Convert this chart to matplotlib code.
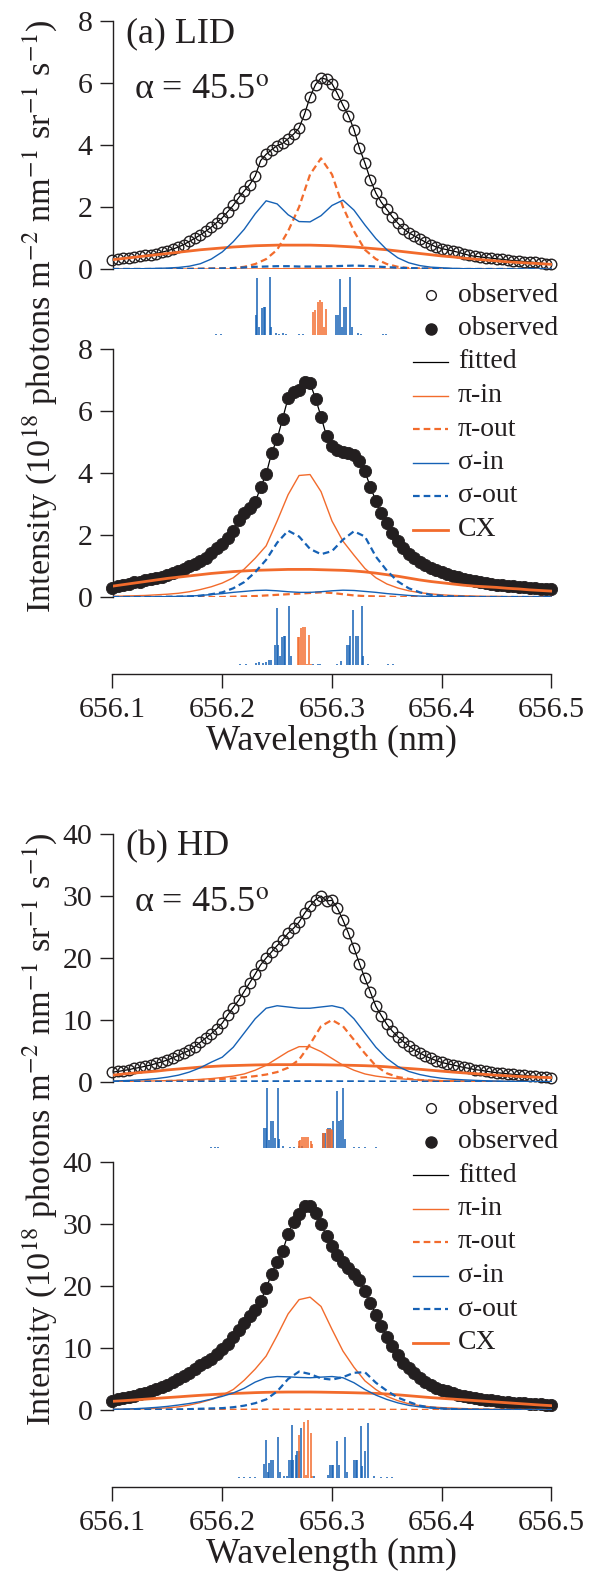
import numpy as np
import matplotlib
matplotlib.use('Agg')
import matplotlib.pyplot as plt
from matplotlib.lines import Line2D

plt.rcParams['font.family'] = ['Liberation Serif', 'DejaVu Serif']
plt.rcParams['mathtext.fontset'] = 'stix'

# wavelength grids (nm): observed points every 0.005 nm, fitted components every 0.01 nm
wl_obs = np.round(np.arange(656.100, 656.5001, 0.005), 3)
wl_fit = np.round(np.arange(656.10, 656.5001, 0.01), 2)

# ---------------- (a) LID, upper panel (open circles) ----------------
a_up_obs = [0.30, 0.32, 0.35, 0.37, 0.39, 0.41, 0.44, 0.46, 0.50, 0.54,
            0.59, 0.64, 0.71, 0.79, 0.89, 0.99, 1.10, 1.22, 1.35, 1.50,
            1.65, 1.85, 2.05, 2.30, 2.52, 2.72, 3.00, 3.50, 3.70, 3.85,
            3.98, 4.05, 4.20, 4.35, 4.55, 5.00, 5.55, 5.95, 6.16, 6.12,
            5.98, 5.65, 5.28, 4.95, 4.50, 3.90, 3.42, 2.88, 2.45, 2.15,
            1.92, 1.68, 1.48, 1.30, 1.17, 1.07, 0.97, 0.87, 0.79, 0.71,
            0.66, 0.62, 0.58, 0.54, 0.49, 0.44, 0.41, 0.39, 0.37, 0.35,
            0.33, 0.31, 0.29, 0.27, 0.26, 0.24, 0.23, 0.21, 0.19, 0.17,
            0.15]
a_up_pi_in = [0.0, 0.0, 0.0, 0.0, 0.0, 0.0, 0.0, 0.0, 0.0, 0.0,
              0.0, 0.0, 0.0, 0.0, 0.01, 0.01, 0.01, 0.02, 0.02, 0.02,
              0.02, 0.01, 0.01, 0.01, 0.0, 0.0, 0.0, 0.0, 0.0, 0.0,
              0.0, 0.0, 0.0, 0.0, 0.0, 0.0, 0.0, 0.0, 0.0, 0.0, 0.0]
a_up_pi_out = [0.0, 0.0, 0.0, 0.0, 0.0, 0.0, 0.0, 0.01, 0.01, 0.02,
               0.02, 0.03, 0.07, 0.16, 0.32, 0.62, 1.22, 2.00, 3.05, 3.57,
               3.05, 2.00, 1.22, 0.62, 0.32, 0.16, 0.07, 0.03, 0.02, 0.01,
               0.01, 0.0, 0.0, 0.0, 0.0, 0.0, 0.0, 0.0, 0.0, 0.0, 0.0]
a_up_sig_in = [0.0, 0.0, 0.01, 0.01, 0.02, 0.03, 0.05, 0.09, 0.17, 0.32,
               0.55, 0.88, 1.28, 1.78, 2.20, 2.10, 1.75, 1.53, 1.52, 1.72,
               2.05, 2.22, 1.90, 1.42, 0.98, 0.62, 0.36, 0.20, 0.11, 0.06,
               0.04, 0.02, 0.01, 0.01, 0.0, 0.0, 0.0, 0.0, 0.0, 0.0, 0.0]
a_up_sig_out = [0.0, 0.0, 0.0, 0.0, 0.0, 0.0, 0.0, 0.0, 0.005, 0.01,
                0.02, 0.03, 0.05, 0.07, 0.08, 0.09, 0.09, 0.08, 0.08, 0.08,
                0.09, 0.10, 0.11, 0.10, 0.08, 0.06, 0.04, 0.03, 0.02, 0.01,
                0.0, 0.0, 0.0, 0.0, 0.0, 0.0, 0.0, 0.0, 0.0, 0.0, 0.0]
a_up_cx = [0.30, 0.34, 0.38, 0.42, 0.46, 0.50, 0.54, 0.58, 0.62, 0.65,
           0.68, 0.71, 0.73, 0.75, 0.76, 0.77, 0.77, 0.77, 0.77, 0.76,
           0.75, 0.73, 0.71, 0.68, 0.65, 0.62, 0.58, 0.54, 0.50, 0.46,
           0.42, 0.39, 0.35, 0.32, 0.29, 0.26, 0.23, 0.21, 0.19, 0.17, 0.15]

# ---------------- (a) LID, lower panel (filled circles) ----------------
a_lo_obs = [0.30, 0.34, 0.38, 0.43, 0.47, 0.50, 0.54, 0.57, 0.61, 0.66,
            0.70, 0.76, 0.83, 0.91, 1.00, 1.07, 1.15, 1.25, 1.42, 1.58,
            1.72, 1.90, 2.12, 2.50, 2.72, 2.88, 3.05, 3.55, 3.96, 4.65,
            5.10, 5.75, 6.42, 6.62, 6.68, 6.92, 6.90, 6.40, 5.82, 5.19,
            4.87, 4.74, 4.67, 4.63, 4.58, 4.40, 4.05, 3.55, 3.10, 2.70,
            2.38, 2.08, 1.80, 1.57, 1.40, 1.25, 1.13, 1.02, 0.94, 0.86,
            0.80, 0.75, 0.69, 0.64, 0.59, 0.55, 0.51, 0.48, 0.45, 0.43,
            0.40, 0.38, 0.36, 0.34, 0.32, 0.31, 0.30, 0.28, 0.27, 0.26,
            0.25]
a_lo_pi_in = [0.02, 0.03, 0.04, 0.05, 0.07, 0.09, 0.12, 0.17, 0.24, 0.33,
              0.45, 0.62, 0.90, 1.25, 1.65, 2.45, 3.30, 3.92, 3.95, 3.40,
              2.45, 1.80, 1.35, 0.92, 0.62, 0.42, 0.29, 0.20, 0.14, 0.10,
              0.07, 0.05, 0.04, 0.03, 0.02, 0.02, 0.01, 0.01, 0.01, 0.01, 0.0]
a_lo_pi_out = [0.0, 0.0, 0.0, 0.0, 0.0, 0.0, 0.0, 0.0, 0.0, 0.0,
               0.0, 0.01, 0.02, 0.03, 0.05, 0.07, 0.09, 0.11, 0.13, 0.15,
               0.13, 0.09, 0.05, 0.03, 0.02, 0.01, 0.0, 0.0, 0.0, 0.0,
               0.0, 0.0, 0.0, 0.0, 0.0, 0.0, 0.0, 0.0, 0.0, 0.0, 0.0]
a_lo_sig_in = [0.0, 0.0, 0.0, 0.0, 0.01, 0.01, 0.02, 0.03, 0.05, 0.08,
               0.11, 0.15, 0.18, 0.21, 0.22, 0.20, 0.17, 0.15, 0.15, 0.17,
               0.20, 0.22, 0.21, 0.18, 0.15, 0.11, 0.08, 0.05, 0.03, 0.02,
               0.01, 0.0, 0.0, 0.0, 0.0, 0.0, 0.0, 0.0, 0.0, 0.0, 0.0]
a_lo_sig_out = [0.0, 0.0, 0.0, 0.0, 0.0, 0.01, 0.01, 0.02, 0.04, 0.09,
                0.15, 0.28, 0.48, 0.80, 1.20, 1.75, 2.14, 1.95, 1.55, 1.38,
                1.48, 1.85, 2.12, 1.95, 1.30, 0.85, 0.50, 0.28, 0.15, 0.07,
                0.04, 0.02, 0.01, 0.0, 0.0, 0.0, 0.0, 0.0, 0.0, 0.0, 0.0]
a_lo_cx = [0.35, 0.40, 0.45, 0.50, 0.55, 0.60, 0.64, 0.68, 0.72, 0.76,
           0.79, 0.82, 0.84, 0.86, 0.87, 0.88, 0.89, 0.89, 0.89, 0.88,
           0.87, 0.86, 0.84, 0.81, 0.77, 0.72, 0.67, 0.61, 0.55, 0.50,
           0.46, 0.42, 0.38, 0.35, 0.33, 0.31, 0.28, 0.26, 0.23, 0.21, 0.19]

# ---------------- (b) HD, upper panel (open circles) ----------------
b_up_obs = [1.6, 1.7, 1.85, 2.0, 2.2, 2.35, 2.55, 2.75, 3.0, 3.25,
            3.55, 3.9, 4.3, 4.7, 5.1, 5.7, 6.4, 7.1, 7.8, 8.6,
            9.5, 10.8, 12.0, 13.2, 14.6, 16.0, 17.4, 18.9, 20.0, 21.0,
            22.0, 22.9, 24.0, 24.8, 25.8, 27.2, 28.4, 29.4, 30.0, 29.2,
            29.3, 28.0, 26.1, 24.0, 21.6, 19.1, 16.7, 14.5, 12.2, 10.7,
            9.3, 8.2, 7.3, 6.5, 5.8, 5.2, 4.7, 4.2, 3.8, 3.45,
            3.15, 2.95, 2.75, 2.55, 2.35, 2.2, 2.0, 1.9, 1.75, 1.62,
            1.5, 1.42, 1.32, 1.23, 1.15, 1.07, 1.0, 0.92, 0.85, 0.78,
            0.7]
b_up_pi_in = [0.08, 0.10, 0.12, 0.15, 0.18, 0.22, 0.27, 0.33, 0.42, 0.55,
              0.72, 0.95, 1.3, 1.9, 2.7, 3.8, 4.9, 5.7, 5.7, 4.9,
              3.8, 2.7, 1.9, 1.3, 0.95, 0.72, 0.55, 0.42, 0.33, 0.27,
              0.22, 0.18, 0.15, 0.12, 0.10, 0.08, 0.07, 0.06, 0.05, 0.05, 0.04]
b_up_pi_out = [0.05, 0.07, 0.09, 0.11, 0.14, 0.17, 0.2, 0.25, 0.3, 0.4,
               0.5, 0.6, 0.75, 0.95, 1.2, 1.6, 2.3, 3.6, 6.1, 9.0,
               10.0, 9.0, 6.8, 4.6, 2.6, 1.4, 0.8, 0.5, 0.32, 0.22,
               0.15, 0.10, 0.07, 0.05, 0.04, 0.03, 0.02, 0.02, 0.01, 0.01, 0.01]
b_up_sig_in = [0.15, 0.22, 0.30, 0.40, 0.55, 0.78, 1.1, 1.6, 2.3, 3.2,
               4.0, 5.6, 7.9, 10.2, 11.9, 12.3, 12.1, 11.9, 11.9, 12.1,
               12.3, 11.9, 10.2, 7.9, 5.6, 3.8, 2.5, 1.7, 1.2, 0.85,
               0.6, 0.45, 0.35, 0.27, 0.2, 0.15, 0.12, 0.09, 0.07, 0.06, 0.05]
b_up_sig_out = [0.02, 0.02, 0.03, 0.03, 0.04, 0.04, 0.05, 0.05, 0.06, 0.07,
                0.08, 0.09, 0.10, 0.10, 0.11, 0.11, 0.11, 0.11, 0.11, 0.11,
                0.11, 0.10, 0.10, 0.09, 0.08, 0.07, 0.06, 0.05, 0.05, 0.04,
                0.04, 0.03, 0.03, 0.03, 0.02, 0.02, 0.02, 0.02, 0.02, 0.01, 0.01]
b_up_cx = [1.1, 1.3, 1.45, 1.6, 1.75, 1.95, 2.1, 2.25, 2.4, 2.5,
           2.6, 2.65, 2.7, 2.75, 2.78, 2.8, 2.8, 2.8, 2.8, 2.78,
           2.75, 2.72, 2.68, 2.63, 2.56, 2.45, 2.3, 2.18, 2.05, 1.9,
           1.75, 1.6, 1.47, 1.35, 1.22, 1.1, 1.0, 0.9, 0.82, 0.75, 0.7]

# ---------------- (b) HD, lower panel (filled circles) ----------------
b_lo_obs = [1.5, 1.7, 1.9, 2.1, 2.3, 2.55, 2.8, 3.1, 3.4, 3.75,
            4.1, 4.5, 5.0, 5.5, 6.0, 6.6, 7.2, 7.7, 8.3, 9.0,
            9.8, 10.7, 11.8, 12.9, 14.0, 15.1, 16.2, 17.6, 19.6, 22.0,
            23.9, 25.6, 28.4, 30.4, 31.6, 32.9, 32.9, 31.7, 30.0, 28.1,
            26.5, 25.0, 23.8, 22.9, 22.0, 20.9, 19.2, 17.3, 15.4, 13.5,
            11.8, 10.3, 8.9, 7.6, 6.7, 5.9, 5.2, 4.5, 4.0, 3.6,
            3.3, 3.0, 2.7, 2.4, 2.2, 2.05, 1.9, 1.8, 1.68, 1.56,
            1.45, 1.35, 1.25, 1.17, 1.1, 1.06, 1.02, 0.98, 0.92, 0.86,
            0.8]
b_lo_pi_in = [0.1, 0.12, 0.15, 0.19, 0.25, 0.35, 0.5, 0.8, 1.2, 1.7,
              2.4, 3.3, 4.8, 6.6, 8.7, 12.0, 15.5, 17.8, 18.2, 16.7,
              13.0, 9.5, 6.9, 4.7, 3.3, 2.2, 1.5, 1.0, 0.7, 0.5,
              0.38, 0.3, 0.23, 0.18, 0.15, 0.12, 0.1, 0.08, 0.07, 0.06, 0.05]
b_lo_pi_out = [0.0, 0.0, 0.01, 0.01, 0.01, 0.02, 0.02, 0.03, 0.03, 0.04,
               0.05, 0.05, 0.06, 0.06, 0.07, 0.07, 0.07, 0.07, 0.07, 0.07,
               0.07, 0.06, 0.06, 0.05, 0.05, 0.04, 0.03, 0.03, 0.02, 0.02,
               0.01, 0.01, 0.01, 0.01, 0.0, 0.0, 0.0, 0.0, 0.0, 0.0, 0.0]
b_lo_sig_in = [0.1, 0.15, 0.2, 0.3, 0.42, 0.58, 0.8, 1.05, 1.35, 1.75,
               2.2, 2.75, 3.5, 4.5, 5.2, 5.4, 5.35, 5.25, 5.2, 5.3,
               5.4, 5.2, 4.4, 3.3, 2.4, 1.7, 1.15, 0.75, 0.5, 0.33,
               0.22, 0.15, 0.1, 0.07, 0.05, 0.04, 0.03, 0.02, 0.02, 0.01, 0.01]
b_lo_sig_out = [0.0, 0.01, 0.02, 0.03, 0.05, 0.07, 0.1, 0.14, 0.2, 0.25,
                0.3, 0.45, 0.7, 1.1, 1.7, 3.0, 5.0, 6.2, 5.8, 5.1,
                4.9, 5.3, 6.0, 6.1, 4.4, 3.1, 2.0, 1.3, 0.7, 0.4,
                0.25, 0.15, 0.1, 0.07, 0.05, 0.03, 0.02, 0.02, 0.01, 0.01, 0.0]
b_lo_cx = [1.4, 1.5, 1.62, 1.75, 1.88, 2.0, 2.12, 2.25, 2.37, 2.48,
           2.58, 2.66, 2.73, 2.8, 2.85, 2.88, 2.9, 2.9, 2.9, 2.88,
           2.85, 2.82, 2.78, 2.73, 2.68, 2.58, 2.45, 2.3, 2.15, 2.0,
           1.88, 1.76, 1.64, 1.52, 1.4, 1.28, 1.16, 1.04, 0.92, 0.8, 0.7]

# ---------------- stick spectra (relative line strengths) ----------------
a_up_stk_blue_wl = [656.1945, 656.1991, 656.2309, 656.2321, 656.2336, 656.2361, 656.2376,
                    656.2391, 656.2433, 656.2445, 656.2491, 656.2521, 656.2552, 656.2582,
                    656.2703, 656.2733, 656.3036, 656.3052, 656.3073, 656.3088, 656.3109,
                    656.3127, 656.3164, 656.3179, 656.3233, 656.3264, 656.3461, 656.3491]
a_up_stk_blue_h = [1, 1, 20, 57, 8, 27, 28, 28, 58, 8, 2, 1, 2, 1,
                   1, 1, 20, 20, 56, 8, 28, 28, 58, 8, 2, 1, 1, 1]
a_up_stk_or_wl = [656.2824, 656.2845, 656.2870, 656.2891, 656.2909, 656.2927, 656.2945]
a_up_stk_or_h = [23, 25, 33, 35, 33, 8, 26]

a_lo_stk_blue_wl = [656.2158, 656.2218, 656.2309, 656.2333, 656.2370, 656.2400, 656.2424,
                    656.2445, 656.2482, 656.2500, 656.2512, 656.2524, 656.2545, 656.2561,
                    656.2573, 656.2612, 656.2624, 656.2824, 656.2870, 656.2891, 656.3042,
                    656.3082, 656.3136, 656.3152, 656.3167, 656.3194, 656.3215, 656.3236,
                    656.3270, 656.3282, 656.3327, 656.3506, 656.3552]
a_lo_stk_blue_h = [1, 1, 2, 3, 2, 3, 5, 5, 20, 57, 20, 9, 28, 29, 29, 59, 9,
                   1, 1, 1, 1, 4, 20, 20, 29, 55, 29, 29, 59, 9, 1, 1, 1]
a_lo_stk_or_wl = [656.2688, 656.2703, 656.2721, 656.2739, 656.2758, 656.2770, 656.2788, 656.2806]
a_lo_stk_or_h = [28, 28, 37, 38, 38, 1, 30, 1]

b_up_stk_blue_wl = [656.1900, 656.1930, 656.1960, 656.2383, 656.2396, 656.2405, 656.2423,
                    656.2441, 656.2459, 656.2478, 656.2505, 656.2520, 656.2550, 656.2620,
                    656.2650, 656.2700, 656.2730, 656.2921, 656.2939, 656.2963, 656.2982,
                    656.3012, 656.3043, 656.3061, 656.3079, 656.3097, 656.3119, 656.3200,
                    656.3250, 656.3300, 656.3400]
b_up_stk_blue_h = [1, 1, 1, 20, 20, 60, 8, 27, 27, 10, 60, 9, 2, 1,
                   1, 2, 2, 15, 15, 20, 20, 27, 57, 27, 28, 60, 9, 1, 1, 1, 1]
b_up_stk_or_wl = [656.2696, 656.2708, 656.2727, 656.2745, 656.2763, 656.2781, 656.2805,
                  656.2820, 656.2915, 656.2930, 656.2951, 656.2970, 656.2988, 656.3003]
b_up_stk_or_h = [7, 8, 11, 11, 11, 11, 7, 4, 15, 15, 19, 19, 19, 18]

b_lo_stk_blue_wl = [656.2150, 656.2200, 656.2250, 656.2300, 656.2377, 656.2396, 656.2414,
                    656.2429, 656.2441, 656.2466, 656.2508, 656.2526, 656.2560, 656.2590,
                    656.2611, 656.2623, 656.2636, 656.2648, 656.2669, 656.2678, 656.2702,
                    656.2720, 656.2840, 656.2960, 656.2982, 656.2997, 656.3012, 656.3043,
                    656.3064, 656.3119, 656.3134, 656.3201, 656.3216, 656.3231, 656.3261,
                    656.3277, 656.3301, 656.3331, 656.3380, 656.3450, 656.3500, 656.3550]
b_lo_stk_blue_h = [1, 1, 1, 1, 14, 38, 6, 15, 18, 18, 41, 6, 2, 2,
                   18, 18, 53, 18, 23, 27, 27, 50, 2, 3, 13, 13, 13, 37,
                   13, 41, 6, 18, 18, 18, 52, 12, 27, 55, 2, 1, 1, 1]
b_lo_stk_or_wl = [656.2696, 656.2742, 656.2760, 656.2781, 656.2806, 656.2820]
b_lo_stk_or_h = [43, 56, 3, 58, 45, 2]

ORANGE = '#f26b2c'
BLUE = '#1561b5'
INK = '#231f20'
W, H = 589, 1578

fig = plt.figure(figsize=(W / 100, H / 100), dpi=100)
renderer = fig.canvas.get_renderer()


def add_ax(top, bottom, left=112.5, right=551.5):
    return fig.add_axes([left / W, 1 - bottom / H, (right - left) / W, (bottom - top) / H])


def draw_panel(ax, obs, filled, pi_in, pi_out, sig_in, sig_out, cx, ymax, step):
    ax.plot(wl_obs, obs, color='black', lw=0.9, zorder=2)
    if filled:
        ax.plot(wl_obs, obs, 'o', ms=8.8, mfc=INK, mec=INK, mew=0.6,
                zorder=3, clip_on=False)
    else:
        ax.plot(wl_obs, obs, 'o', ms=7.6, mfc='none', mec=INK, mew=1.0,
                zorder=3, clip_on=False)
    ax.plot(wl_fit, cx, color=ORANGE, lw=2.0, zorder=4)
    ax.plot(wl_fit, pi_in, color=ORANGE, lw=1.0, zorder=4)
    ax.plot(wl_fit, pi_out, color=ORANGE, lw=1.6, ls=(0, (3.0, 1.8)), zorder=4)
    ax.plot(wl_fit, sig_in, color=BLUE, lw=1.0, zorder=4)
    ax.plot(wl_fit, sig_out, color=BLUE, lw=1.6, ls=(0, (3.0, 1.8)), zorder=4)
    ax.set_xlim(656.1, 656.5)
    ax.set_ylim(0, ymax)
    ax.set_yticks(np.arange(0, ymax + step / 2, step))
    for s in ['top', 'right', 'bottom']:
        ax.spines[s].set_visible(False)
    ax.spines['left'].set_linewidth(1.0)
    ax.spines['left'].set_color(INK)
    ax.set_xticks([])
    ax.tick_params(axis='y', direction='out', length=9.5, width=1.0, labelsize=21.5,
                   pad=5, color=INK, labelcolor=INK)
    ax.patch.set_alpha(0)


def draw_sticks(ax, bwl, bh, owl, oh, axis_line=False):
    ax.vlines(bwl, 0, bh, colors=BLUE, lw=1.1)
    ax.vlines(owl, 0, oh, colors=ORANGE, lw=1.1)
    ax.set_xlim(656.1, 656.5)
    for s in ['top', 'right', 'left']:
        ax.spines[s].set_visible(False)
    ax.set_yticks([])
    ax.patch.set_alpha(0)
    if axis_line:
        ax.set_ylim(-9, 60)
        ax.spines['bottom'].set_linewidth(1.0)
        ax.spines['bottom'].set_color(INK)
        ax.set_xticks([656.1, 656.2, 656.3, 656.4, 656.5])
        ax.set_xticklabels(['656.1', '656.2', '656.3', '656.4', '656.5'])
        ax.tick_params(axis='x', direction='out', length=10, width=1.0, labelsize=21.5,
                       pad=6.5, color=INK, labelcolor=INK)
        ax.set_xlabel('Wavelength (nm)', fontsize=26, labelpad=1.5, color=INK)
    else:
        ax.set_ylim(0, 60)
        ax.spines['bottom'].set_visible(False)
        ax.set_xticks([])


def draw_legend(y0):
    x_line = (413, 448)
    x_text = 458
    step = 33.5
    entries = [
        ('observed', dict(marker='o', ms=7.0, mfc='none', mec=INK, mew=1.0, ls='none'), True),
        ('observed', dict(marker='o', ms=8.0, mfc=INK, mec=INK, ls='none'), True),
        ('fitted', dict(color='black', lw=0.9), False),
        ('\u03c0-in', dict(color=ORANGE, lw=1.0), False),
        ('\u03c0-out', dict(color=ORANGE, lw=1.6, ls=(0, (3.0, 1.8))), False),
        ('\u03c3-in', dict(color=BLUE, lw=1.0), False),
        ('\u03c3-out', dict(color=BLUE, lw=1.6, ls=(0, (3.0, 1.8))), False),
        ('CX', dict(color=ORANGE, lw=2.0), False),
    ]
    for i, (lab, style, is_marker) in enumerate(entries):
        y = 1 - (y0 + i * step) / H
        if is_marker:
            xs = [(x_line[0] + x_line[1]) / 2 / W]
            ys = [y]
        else:
            xs = [x_line[0] / W, x_line[1] / W]
            ys = [y, y]
        fig.add_artist(Line2D(xs, ys, transform=fig.transFigure, **style))
        fig.text(x_text / W, y, lab, fontsize=20, va='center', ha='left', color=INK)


blocks = [
    (0, '(a) LID', 8, 2,
     (a_up_obs, a_up_pi_in, a_up_pi_out, a_up_sig_in, a_up_sig_out, a_up_cx),
     (a_lo_obs, a_lo_pi_in, a_lo_pi_out, a_lo_sig_in, a_lo_sig_out, a_lo_cx),
     (a_up_stk_blue_wl, a_up_stk_blue_h, a_up_stk_or_wl, a_up_stk_or_h),
     (a_lo_stk_blue_wl, a_lo_stk_blue_h, a_lo_stk_or_wl, a_lo_stk_or_h)),
    (813, '(b) HD', 40, 10,
     (b_up_obs, b_up_pi_in, b_up_pi_out, b_up_sig_in, b_up_sig_out, b_up_cx),
     (b_lo_obs, b_lo_pi_in, b_lo_pi_out, b_lo_sig_in, b_lo_sig_out, b_lo_cx),
     (b_up_stk_blue_wl, b_up_stk_blue_h, b_up_stk_or_wl, b_up_stk_or_h),
     (b_lo_stk_blue_wl, b_lo_stk_blue_h, b_lo_stk_or_wl, b_lo_stk_or_h)),
]

ylabel = r'Intensity (10$^{18}$ photons m$^{-2}$ nm$^{-1}$ sr$^{-1}$ s$^{-1}$)'

for off, tag, ymax, step, up, lo, stk_up, stk_lo in blocks:
    ax_up = add_ax(21 + off, 269 + off)
    draw_panel(ax_up, up[0], False, *up[1:], ymax=ymax, step=step)
    ax_s1 = add_ax(275 + off, 335 + off)
    draw_sticks(ax_s1, *stk_up)
    ax_lo = add_ax(349 + off, 597 + off)
    draw_panel(ax_lo, lo[0], True, *lo[1:], ymax=ymax, step=step)
    ax_s2 = add_ax(605 + off, 674 + off)
    draw_sticks(ax_s2, *stk_lo, axis_line=True)

    fig.text(126 / W, 1 - (34 + off) / H, tag, fontsize=26, va='center', ha='left',
             color=INK)
    fig.text(134 / W, 1 - (90 + off) / H, '\u03b1 = 45.5$^{\\mathrm{o}}$', fontsize=26,
             va='center', ha='left', color=INK)
    # y label: size it so that it spans the same height as in the original
    t = fig.text(40 / W, 1 - (316 + off) / H, ylabel, fontsize=24, rotation=90,
                 va='center', ha='center', color=INK)
    ext = t.get_window_extent(renderer=renderer)
    t.set_fontsize(24 * 594 / ext.height)
    draw_legend(295 + off)

fig.savefig('out.png', dpi=100)
